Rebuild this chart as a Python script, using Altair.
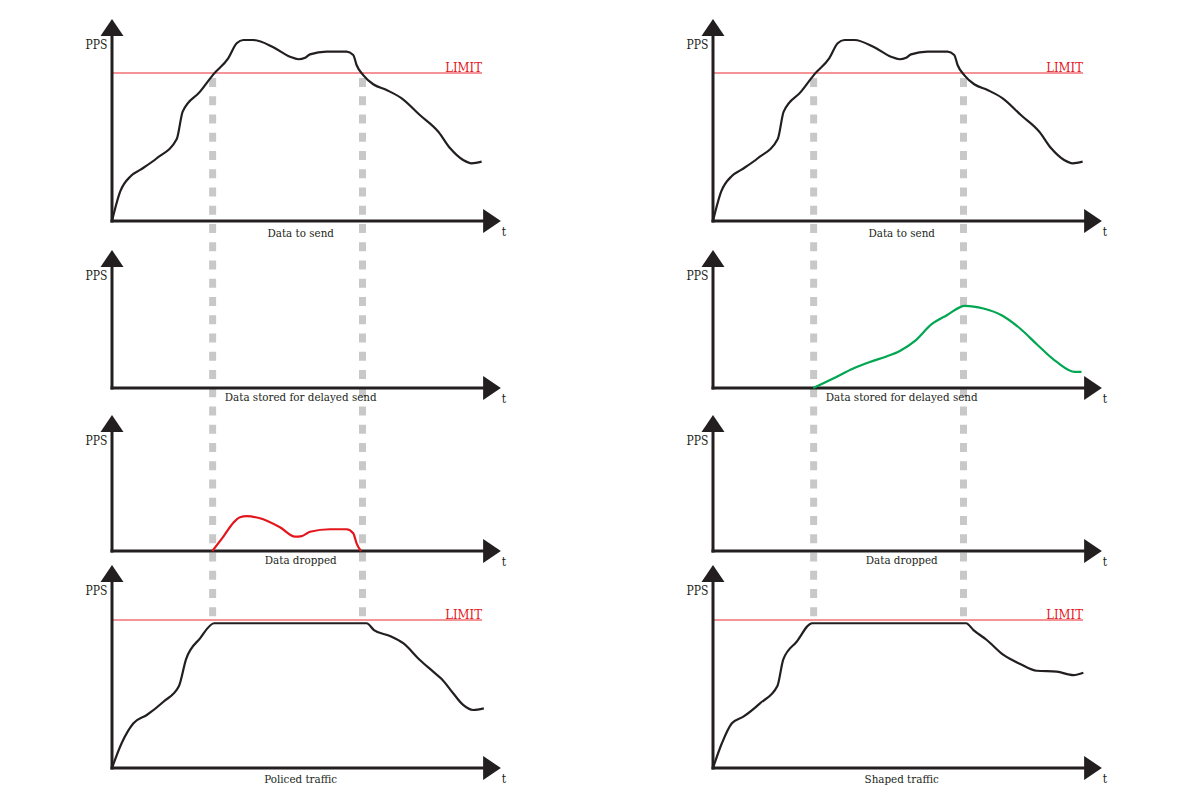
import altair as alt
import pandas as pd

# ---------------- data (t in time units, PPS in % of the limit) ----------------
send_t = [0.0, 0.22, 0.51, 0.76, 1.21, 1.75, 1.91, 2.38, 2.74, 3.14, 3.37, 3.55, 3.82,
          4.36, 4.81, 5.04, 5.22, 5.35, 5.80, 6.34, 6.52, 6.61, 6.79, 7.06, 7.42, 7.83,
          8.32, 8.82, 9.14, 9.49, 9.72, 9.99]
send_p = [0.0, 19.8, 30.4, 34.5, 42.4, 55.4, 73.9, 87.4, 99.1, 109.9, 120.1, 122.3, 122.3,
          117.4, 111.0, 109.3, 110.3, 112.6, 114.4, 114.4, 112.2, 105.4, 98.6, 92.4, 88.5, 82.9,
          71.6, 60.3, 49.1, 41.2, 39.0, 40.1]

dropped_t = [2.71, 3.01, 3.28, 3.46, 3.64, 4.00, 4.54, 4.95, 5.13, 5.35, 5.89, 6.34, 6.52, 6.61, 6.73]
dropped_p = [0.0, 9.7, 19.1, 22.8, 23.6, 22.1, 16.0, 9.7, 10.1, 13.0, 14.7, 14.7, 12.0, 5.2, 0.0]

policed_t = [0.0, 0.26, 0.58, 0.94, 1.39, 1.81, 2.00, 2.38, 2.76, 6.88, 7.08, 7.51, 7.87,
             8.32, 8.68, 8.91, 9.22, 9.49, 9.76, 10.05]
policed_p = [0.0, 16.7, 30.2, 35.8, 44.8, 55.4, 73.4, 87.6, 97.8, 97.8, 93.2, 89.2, 84.3,
             73.0, 65.1, 60.1, 50.5, 42.6, 39.2, 40.3]

stored_t = [2.71, 3.25, 3.79, 4.24, 4.69, 5.05, 5.46, 5.91, 6.32, 6.81, 7.31, 7.80, 8.30,
            8.75, 9.29, 9.78, 9.96]
stored_p = [0.0, 6.4, 13.2, 17.6, 21.3, 25.0, 31.8, 43.1, 49.2, 55.5, 53.7, 49.2, 40.2,
            29.6, 17.6, 10.9, 10.9]

shaped_t = [0.0, 0.24, 0.51, 0.82, 1.27, 1.74, 1.90, 2.26, 2.68, 6.84, 7.04, 7.40, 7.85,
            8.30, 8.75, 9.29, 9.74, 10.01]
shaped_p = [0.0, 16.7, 30.2, 34.7, 43.7, 55.4, 73.4, 85.3, 97.8, 97.8, 93.2, 86.5, 76.4,
            70.3, 65.7, 65.1, 62.8, 64.4]

LIMIT = 100
cut_t = [2.72, 6.77]

captions_left = ["Data to send", "Data stored for delayed send", "Data dropped", "Policed traffic"]
captions_right = ["Data to send", "Data stored for delayed send", "Data dropped", "Shaped traffic"]

# ---------------- layout ----------------
COL_X0 = [112, 713]
AXIS_Y = [221, 388, 551, 768]
AXIS_TOP = [19, 250, 415, 565]
CAP_DY = [13, 10, 10, 12]
PX_T = 37.0
PX_P = 1.48
T_TIP = 10.5
LIMIT_T_END = 10.0
INK = "#231f20"
RED = "#e3161d"
GREEN = "#00a651"
FONT = "DejaVu Serif Condensed, DejaVu Serif"


def gx(col, t):
    return COL_X0[col] + t * PX_T


def gy(row, p):
    return AXIS_Y[row] - p * PX_P


series = [
    ("send_l", 0, 0, send_t, send_p, INK),
    ("send_r", 1, 0, send_t, send_p, INK),
    ("dropped", 0, 2, dropped_t, dropped_p, RED),
    ("policed", 0, 3, policed_t, policed_p, INK),
    ("stored", 1, 1, stored_t, stored_p, GREEN),
    ("shaped", 1, 3, shaped_t, shaped_p, INK),
]
rows = []
for name, col, row, ts, ps, color in series:
    for i, (t, p) in enumerate(zip(ts, ps)):
        rows.append({"series": name, "i": i, "gx": gx(col, t), "gy": gy(row, p), "color": color})
lines_df = pd.DataFrame(rows)

# axes segments
seg = []
for col in range(2):
    for row in range(4):
        x0 = COL_X0[col]
        seg.append({"gx": x0, "gy": AXIS_Y[row] + 1.5, "gx2": x0, "gy2": AXIS_TOP[row] + 16})
        seg.append({"gx": x0 - 1.5, "gy": AXIS_Y[row], "gx2": gx(col, T_TIP) - 16, "gy2": AXIS_Y[row]})
axes_df = pd.DataFrame(seg)

up = []
right = []
for col in range(2):
    for row in range(4):
        up.append({"gx": COL_X0[col], "gy": AXIS_TOP[row] + 8.5})
        right.append({"gx": gx(col, T_TIP) - 8.5, "gy": AXIS_Y[row]})
up_df = pd.DataFrame(up)
right_df = pd.DataFrame(right)

limit_df = pd.DataFrame([
    {"gx": gx(col, 0), "gx2": gx(col, LIMIT_T_END), "gy": gy(row, LIMIT), "gy2": gy(row, LIMIT)}
    for col in range(2) for row in (0, 3)
])

dash_df = pd.DataFrame([
    {"gx": gx(col, t), "gx2": gx(col, t), "gy": gy(0, LIMIT) + 5, "gy2": gy(3, LIMIT) - 3}
    for col in range(2) for t in cut_t
])

cap_df = pd.DataFrame([
    {"gx": gx(col, 5.1), "gy": AXIS_Y[row] + CAP_DY[row], "text": (captions_left if col == 0 else captions_right)[row]}
    for col in range(2) for row in range(4)
])
pps_df = pd.DataFrame([
    {"gx": COL_X0[col] - 4.5, "gy": AXIS_TOP[row] + 26, "text": "PPS"}
    for col in range(2) for row in range(4)
])
t_df = pd.DataFrame([
    {"gx": gx(col, T_TIP) + 3.5, "gy": AXIS_Y[row] + 11, "text": "t"}
    for col in range(2) for row in range(4)
])
lim_lab_df = pd.DataFrame([
    {"gx": gx(col, LIMIT_T_END), "gy": gy(row, LIMIT) - 1.5, "text": "LIMIT"}
    for col in range(2) for row in (0, 3)
])

X = alt.X("gx:Q", scale=alt.Scale(domain=[0, 1200], nice=False, zero=False), axis=None)
Y = alt.Y("gy:Q", scale=alt.Scale(domain=[800, 0], nice=False, zero=False), axis=None)

dashes = alt.Chart(dash_df).mark_rule(color="#c8c8c8", strokeWidth=7, strokeDash=[9, 9.25]).encode(
    x=X, y=Y, x2="gx2:Q", y2="gy2:Q")
limits = alt.Chart(limit_df).mark_rule(color="#ea2a2f", strokeWidth=1.1).encode(
    x=X, y=Y, x2="gx2:Q", y2="gy2:Q")
axes = alt.Chart(axes_df).mark_rule(color=INK, strokeWidth=3).encode(
    x=X, y=Y, x2="gx2:Q", y2="gy2:Q")
arrow_up = alt.Chart(up_df).mark_point(
    shape="M0,-0.74 L1,0.74 L-1,0.74 Z", size=529, filled=True, color=INK, opacity=1, strokeWidth=0
).encode(x=X, y=Y)
arrow_right = alt.Chart(right_df).mark_point(
    shape="M0.74,0 L-0.74,1 L-0.74,-1 Z", size=576, filled=True, color=INK, opacity=1, strokeWidth=0
).encode(x=X, y=Y)
curves = alt.Chart(lines_df).mark_line(strokeWidth=2.2, interpolate="monotone").encode(
    x=X, y=Y, detail="series:N", order="i:Q", color=alt.Color("color:N", scale=None))

captions = alt.Chart(cap_df).mark_text(font=FONT, fontSize=11.5, color=INK, align="center", baseline="middle").encode(
    x=X, y=Y, text="text:N")
pps = alt.Chart(pps_df).mark_text(font=FONT, fontSize=12, color=INK, align="right", baseline="middle").encode(
    x=X, y=Y, text="text:N")
tlab = alt.Chart(t_df).mark_text(font=FONT, fontSize=12, color=INK, align="center", baseline="middle").encode(
    x=X, y=Y, text="text:N")
limlab = alt.Chart(lim_lab_df).mark_text(font=FONT, fontSize=13, color=RED, align="right", baseline="alphabetic").encode(
    x=X, y=Y, text="text:N")

chart = alt.layer(dashes, limits, axes, arrow_up, arrow_right, curves, captions, pps, tlab, limlab).properties(
    width=1200, height=800, padding=0, autosize=alt.AutoSizeParams(type="none"), background="white"
).configure_view(stroke=None)

chart.save("out.html", embed_options={"renderer": "svg", "actions": False})
